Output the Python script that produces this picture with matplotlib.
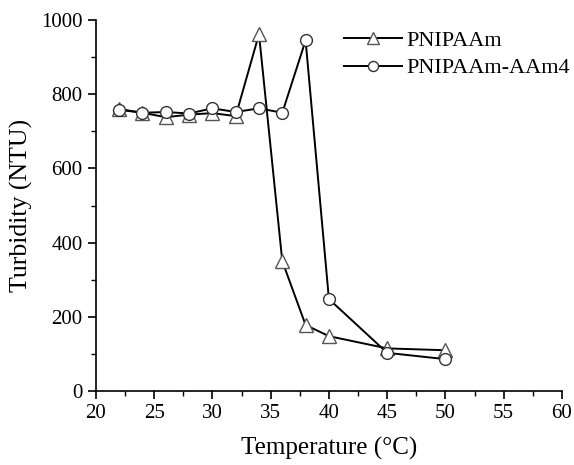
import matplotlib.pyplot as plt
from matplotlib.ticker import MultipleLocator

temperature = [22, 24, 26, 28, 30, 32, 34, 36, 38, 40, 45, 50]
pnipaam = [760, 750, 738, 745, 749, 741, 962, 350, 178, 148, 115, 110]
pnipaam_aam4 = [758, 750, 752, 748, 762, 752, 762, 750, 945, 248, 103, 86]

plt.rcParams["font.family"] = ["Liberation Serif", "DejaVu Serif"]

fig = plt.figure(figsize=(5.74, 4.65), dpi=100)
ax = fig.add_axes([0.167, 0.159, 0.812, 0.798])

ax.plot(temperature, pnipaam, color="black", lw=1.4, marker="^", ms=9.5,
        mfc="white", mec="#555555", mew=1.0, label="PNIPAAm")
ax.plot(temperature, pnipaam_aam4, color="black", lw=1.4, marker="o", ms=8.5,
        mfc="white", mec="#333333", mew=1.0, label="PNIPAAm-AAm4")

ax.set_xlim(20, 60)
ax.set_ylim(0, 1000)
ax.xaxis.set_major_locator(MultipleLocator(5))
ax.xaxis.set_minor_locator(MultipleLocator(2.5))
ax.yaxis.set_major_locator(MultipleLocator(200))
ax.yaxis.set_minor_locator(MultipleLocator(100))
ax.tick_params(which="major", direction="out", length=6, width=1.2, labelsize=15)
ax.tick_params(which="minor", direction="out", length=3.5, width=1.0)

for side in ["top", "right"]:
    ax.spines[side].set_visible(False)
for side in ["left", "bottom"]:
    ax.spines[side].set_linewidth(1.2)

ax.set_xlabel("Temperature (°C)", fontsize=18, labelpad=10)
ax.set_ylabel("Turbidity (NTU)", fontsize=18.5, labelpad=6)

ax.legend(loc="upper left", bbox_to_anchor=(0.49, 1.025), frameon=False,
          fontsize=16, handlelength=2.6, handletextpad=0.2, labelspacing=0.3,
          markerscale=0.85)

fig.savefig("out.png", dpi=100)
